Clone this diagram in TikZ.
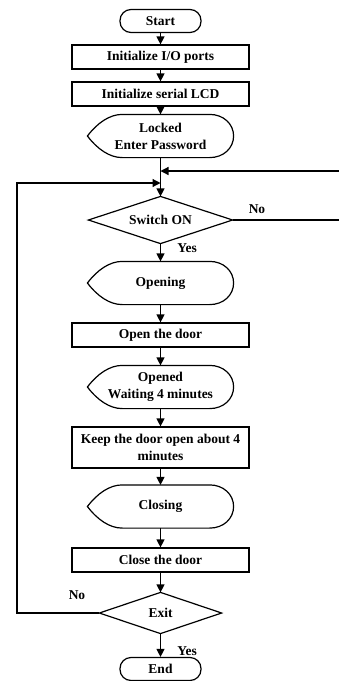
\documentclass[tikz,border=0pt]{standalone}
\usepackage{fontspec}
\setmainfont{Liberation Serif}
\usetikzlibrary{arrows.meta,calc}
\newcommand\dispoutline[1]{%
  \draw (#1.west) .. controls ($(#1.west)+(10,-13)$) and ($(#1.north west)+(22,0)$) .. ($(#1.north west)+(35,0)$)
    -- ($(#1.north east)+(-24,0)$)
    .. controls ($(#1.north east)+(-10,0)$) and ($(#1.east)+(0,-12)$) .. (#1.east)
    .. controls ($(#1.east)+(0,12)$) and ($(#1.south east)+(-10,0)$) .. ($(#1.south east)+(-24,0)$)
    -- ($(#1.south west)+(35,0)$)
    .. controls ($(#1.south west)+(22,0)$) and ($(#1.west)+(10,13)$) .. cycle;}
\newcommand\diaoutline[1]{%
  \draw (#1.north) -- (#1.east) -- (#1.south) -- (#1.west) -- cycle;}
\begin{document}
\begin{tikzpicture}[x=1pt,y=-1pt, line width=1.2pt,
  every node/.style={font=\bfseries\fontsize{13.5}{17}\selectfont, inner sep=0pt},
  term/.style={draw, rounded corners=11pt, minimum width=81pt, minimum height=23pt},
  procbox/.style={draw, minimum width=177pt, minimum height=24pt},
  disp/.style={minimum width=145pt, minimum height=42pt, align=center},
  dia/.style={align=center},
  arr/.style={-{Triangle[length=8pt,width=8pt]}},
  lbl/.style={}
]
\useasboundingbox (0,0) rectangle (339,681);
\node[term] (start) at (160.5,21) {Start};
\node[procbox] (init) at (160.5,57) {Initialize I/O ports};
\node[procbox] (lcd) at (160.5,94) {Initialize serial LCD};
\node[disp] (locked) at (160.5,136) {Locked\\Enter Password};
\coordinate (m1) at (160.5,171);
\coordinate (m2) at (160.5,183);
\node[dia, minimum width=143pt, minimum height=46pt] (sw) at (160.5,220) {Switch ON};
\node[disp] (opening) at (160.5,283) {Opening};
\node[procbox] (open) at (160.5,335) {Open the door};
\node[disp] (opened) at (160.5,387) {Opened\\Waiting 4 minutes};
\node[procbox, minimum height=41pt, align=center] (keep) at (160.5,447.5) {Keep the door open about 4\\minutes};
\node[disp] (closing) at (160.5,506.5) {Closing};
\node[procbox] (close) at (160.5,560) {Close the door};
\node[dia, minimum width=121pt, minimum height=40pt] (exit) at (160.5,613) {Exit};
\node[term] (end) at (160.5,669) {End};
\dispoutline{locked}
\dispoutline{opening}
\dispoutline{opened}
\dispoutline{closing}
\diaoutline{sw}
\diaoutline{exit}
\node[lbl] (no1) at (257,209) {No};
\node[lbl] (yes1) at (187,248) {Yes};
\node[lbl] (no2) at (77,595) {No};
\node[lbl] (yes2) at (187,651) {Yes};
\draw[arr] (start) -- (init);
\draw[arr] (init) -- (lcd);
\draw[arr] (lcd) -- (locked);
\draw[arr] (locked) -- (sw);
\draw[arr] (sw.east) -- (345,220) -- (345,171) -- (m1);
\draw[arr] (exit.west) -| (17,183) -- (m2);
\draw[arr] (sw) -- (opening);
\draw[arr] (opening) -- (open);
\draw[arr] (open) -- (opened);
\draw[arr] (opened) -- (keep);
\draw[arr] (keep) -- (closing);
\draw[arr] (closing) -- (close);
\draw[arr] (close) -- (exit);
\draw[arr] (exit) -- (end);
\end{tikzpicture}
\end{document}
